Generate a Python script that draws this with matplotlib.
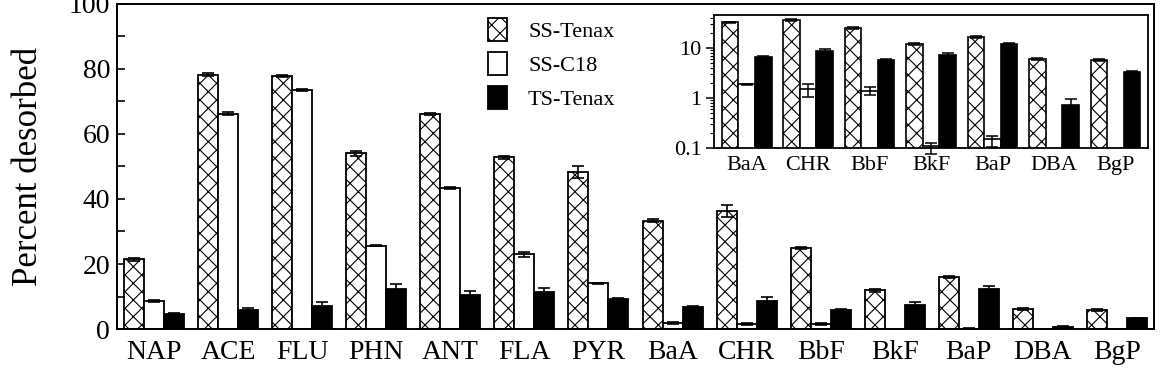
import numpy as np
import matplotlib
matplotlib.use("Agg")
import matplotlib.pyplot as plt

plt.rcParams['font.family'] = ['Liberation Serif', 'DejaVu Serif']
plt.rcParams['hatch.linewidth'] = 0.8

# main panel: percent desorbed for each PAH
compounds = ["NAP", "ACE", "FLU", "PHN", "ANT", "FLA", "PYR",
             "BaA", "CHR", "BbF", "BkF", "BaP", "DBA", "BgP"]
ss_tenax = [21.5, 78.3, 77.8, 54.0, 66.2, 52.8, 48.2, 33.3, 36.3, 24.8, 11.9, 16.1, 6.2, 5.8]
ss_c18 = [8.6, 66.3, 73.6, 25.6, 43.4, 23.0, 14.1, 1.9, 1.5, 1.4, 0.1, 0.14, 0.0, 0.0]
ts_tenax = [4.7, 5.8, 7.0, 12.2, 10.5, 11.3, 9.3, 6.8, 8.7, 5.8, 7.4, 12.4, 0.7, 3.3]
ss_tenax_err = [0.5, 0.4, 0.3, 0.7, 0.4, 0.4, 1.8, 0.4, 1.7, 0.3, 0.4, 0.3, 0.3, 0.3]
ss_c18_err = [0.2, 0.4, 0.3, 0.2, 0.2, 0.8, 0.2, 0.3, 0.3, 0.3, 0.05, 0.05, 0.0, 0.0]
ts_tenax_err = [0.2, 0.8, 1.2, 1.8, 1.2, 1.3, 0.3, 0.2, 1.1, 0.3, 0.9, 0.7, 0.2, 0.2]

# inset: high molecular weight PAHs on a log scale
inset_compounds = ["BaA", "CHR", "BbF", "BkF", "BaP", "DBA", "BgP"]
in_ss_tenax = [33.0, 37.0, 25.0, 12.0, 16.5, 6.1, 5.8]
in_ss_c18 = [1.9, 1.5, 1.4, 0.1, 0.14, 0.0, 0.0]
in_ts_tenax = [6.6, 8.7, 5.7, 7.3, 12.3, 0.72, 3.3]
in_ss_tenax_err = [1.0, 2.0, 1.0, 0.5, 0.6, 0.3, 0.3]
in_ss_c18_err = [0.05, 0.45, 0.25, 0.025, 0.035, 0.0, 0.0]
in_ts_tenax_err = [0.3, 1.0, 0.3, 0.8, 0.4, 0.25, 0.15]

series = ["SS-Tenax", "SS-C18", "TS-Tenax"]
w = 0.27

fig = plt.figure(figsize=(11.65, 3.8), dpi=100)
ax = fig.add_axes([0.1004, 0.1342, 0.8902, 0.8553])

x = np.arange(len(compounds))
styles = [dict(facecolor="white", hatch="xx"), dict(facecolor="white"), dict(facecolor="black")]
vals = [ss_tenax, ss_c18, ts_tenax]
errs = [ss_tenax_err, ss_c18_err, ts_tenax_err]
for k in range(3):
    ax.bar(x + (k - 1) * w, vals[k], w, edgecolor="black", linewidth=1.3,
           label=series[k], **styles[k])
    ax.errorbar(x + (k - 1) * w, vals[k], yerr=errs[k], fmt="none",
                ecolor="black", elinewidth=1.2, capsize=4, capthick=1.2)

ax.set_xlim(-0.5, len(compounds) - 0.5)
ax.set_ylim(0, 100)
ax.set_xticks(x)
ax.set_xticklabels(compounds, fontsize=20)
ax.set_yticks([0, 20, 40, 60, 80, 100])
ax.set_yticks([10, 30, 50, 70, 90], minor=True)
ax.tick_params(axis="y", which="both", direction="in", length=6, width=1.2, labelsize=20, pad=5)
ax.tick_params(axis="x", length=0, pad=8)
ax.set_ylabel("Percent desorbed", fontsize=25)
ax.yaxis.set_label_coords(-0.069, 0.5)
for s in ax.spines.values():
    s.set_linewidth(1.4)

ax.legend(loc="upper left", bbox_to_anchor=(488 / 1165, 1 - 18 / 380),
          bbox_transform=fig.transFigure, frameon=False, fontsize=16,
          handlelength=0.85, handleheight=1.2, labelspacing=0.45,
          handletextpad=0.95, borderpad=0, borderaxespad=0)

# inset
ax2 = fig.add_axes([0.6129, 0.6105, 0.3725, 0.35])
xi = np.arange(len(inset_compounds))
ivals = [in_ss_tenax, in_ss_c18, in_ts_tenax]
ierrs = [in_ss_tenax_err, in_ss_c18_err, in_ts_tenax_err]
for k in range(3):
    ax2.bar(xi + (k - 1) * w, ivals[k], w, bottom=0.01, edgecolor="black",
            linewidth=1.2, **styles[k])
    v = np.array(ivals[k])
    e = np.array(ierrs[k])
    m = v > 0
    eb = ax2.errorbar((xi + (k - 1) * w)[m], v[m], yerr=e[m], fmt="none",
                      ecolor="black", elinewidth=1.1, capsize=4, capthick=1.1)
    for art in eb.lines[1] + eb.lines[2]:
        art.set_clip_on(False)
ax2.set_yscale("log")
ax2.set_ylim(0.1, 46)
ax2.set_xlim(-0.53, len(inset_compounds) - 0.47)
ax2.set_xticks(xi)
ax2.set_xticklabels(inset_compounds, fontsize=16)
ax2.set_yticks([0.1, 1, 10])
ax2.set_yticklabels(["0.1", "1", "10"], fontsize=16)
ax2.tick_params(axis="x", length=0, pad=6)
ax2.tick_params(axis="y", which="major", direction="out", length=6, width=1.1, pad=3)
ax2.tick_params(axis="y", which="minor", direction="out", length=3, width=0.8)
for s in ax2.spines.values():
    s.set_linewidth(1.3)

fig.savefig("out.png", dpi=100)
